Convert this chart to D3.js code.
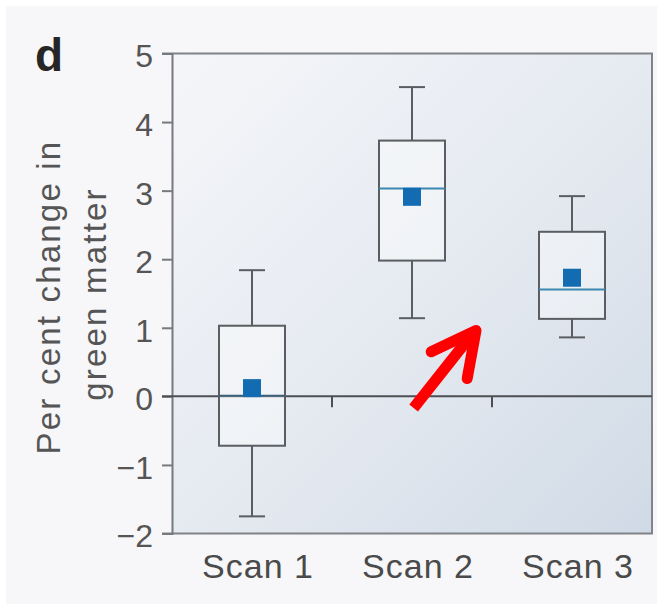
<html>
<script src="https://d3js.org/d3.v7.min.js"></script>
<style>
body { margin: 0; background: #ffffff; }
text { font-family: "Liberation Sans", Arial, sans-serif; }
</style>
<div id="chart"></div>
<script>

// values
var scans = ["Scan 1", "Scan 2", "Scan 3"];
var whiskerLow  = [-1.75, 1.14, 0.86];
var boxLow      = [-0.72, 1.98, 1.13];
var medians     = [0.01, 3.03, 1.56];
var boxHigh     = [1.03, 3.73, 2.40];
var whiskerHigh = [1.84, 4.51, 2.92];
var means       = [0.12, 2.91, 1.73];
var yTicks = [-2, -1, 0, 1, 2, 3, 4, 5];

// annotation arrow, in (band index, value) units
var arrowShaft = [[1.51, -0.17], [1.88, 0.92]];
var arrowHead  = [[1.62, 0.65], [1.90, 0.96], [1.845, 0.26]];

var W = 663, H = 610;
var pLeft = 172, pRight = 652, pTop = 53.5, pBottom = 533.5;

var svg = d3.select("#chart").append("svg")
    .attr("width", W)
    .attr("height", H);

var grad = svg.append("defs").append("linearGradient")
    .attr("id", "bg")
    .attr("x1", "0%").attr("y1", "0%")
    .attr("x2", "100%").attr("y2", "100%");
grad.append("stop").attr("offset", "0%").attr("stop-color", "#f5f6f9");
grad.append("stop").attr("offset", "55%").attr("stop-color", "#e4e9f0");
grad.append("stop").attr("offset", "100%").attr("stop-color", "#d0dae6");

svg.append("rect")
    .attr("x", 6).attr("y", 6)
    .attr("width", W - 12).attr("height", H - 12)
    .attr("fill", "#f7f7f9");

var x = d3.scaleBand()
    .domain(scans)
    .range([pLeft, pRight]);

var xl = d3.scaleLinear()
    .domain([0, 3])
    .range([pLeft, pRight]);

var y = d3.scaleLinear()
    .domain([-2, 5])
    .range([pBottom, pTop]);

svg.append("rect")
    .attr("x", pLeft)
    .attr("y", pTop)
    .attr("width", pRight - pLeft)
    .attr("height", pBottom - pTop)
    .attr("fill", "url(#bg)");

// frame: top, right, bottom
svg.append("path")
    .attr("d", "M" + (pLeft - 10) + "," + y(5) + "H" + pRight + "V" + y(-2) + "H" + (pLeft - 10))
    .attr("fill", "none")
    .attr("stroke", "#808388")
    .attr("stroke-width", 2);

// y axis
var yAxis = svg.append("g")
    .attr("transform", "translate(" + pLeft + ",0)")
    .call(d3.axisLeft(y).tickValues(yTicks).tickSize(10).tickPadding(9)
      .tickFormat(function(d) { return d < 0 ? "\u2212" + Math.abs(d) : d; }));
yAxis.select(".domain").attr("stroke", "#76797e").attr("stroke-width", 2);
yAxis.selectAll(".tick line").attr("stroke", "#76797e").attr("stroke-width", 2);
yAxis.selectAll(".tick text")
    .attr("fill", "#555")
    .attr("dy", "0.42em")
    .style("font-size", "32px");

// zero line + separators
svg.append("line")
    .attr("x1", pLeft - 10).attr("x2", pRight)
    .attr("y1", y(0)).attr("y2", y(0))
    .attr("stroke", "#4c4f53")
    .attr("stroke-width", 2);

svg.selectAll(".sep")
    .data(scans.slice(1))
    .enter()
    .append("line")
      .attr("x1", function(d) { return x(d); })
      .attr("x2", function(d) { return x(d); })
      .attr("y1", y(0))
      .attr("y2", y(0) + 11)
      .attr("stroke", "#4c4f53")
      .attr("stroke-width", 2);

// boxes
var boxW = 66, capW = 26;
var g = svg.selectAll(".scan")
    .data(scans)
    .enter()
    .append("g")
      .attr("transform", function(d) { return "translate(" + (x(d) + x.bandwidth() / 2) + ",0)"; });

// upper whisker
g.append("line")
    .attr("y1", function(d, i) { return y(boxHigh[i]); })
    .attr("y2", function(d, i) { return y(whiskerHigh[i]); })
    .attr("stroke", "#5a5d61")
    .attr("stroke-width", 2);

// lower whisker
g.append("line")
    .attr("y1", function(d, i) { return y(whiskerLow[i]); })
    .attr("y2", function(d, i) { return y(boxLow[i]); })
    .attr("stroke", "#5a5d61")
    .attr("stroke-width", 2);

g.append("line")
    .attr("x1", -capW / 2).attr("x2", capW / 2)
    .attr("y1", function(d, i) { return y(whiskerHigh[i]); })
    .attr("y2", function(d, i) { return y(whiskerHigh[i]); })
    .attr("stroke", "#5a5d61")
    .attr("stroke-width", 2);

g.append("line")
    .attr("x1", -capW / 2).attr("x2", capW / 2)
    .attr("y1", function(d, i) { return y(whiskerLow[i]); })
    .attr("y2", function(d, i) { return y(whiskerLow[i]); })
    .attr("stroke", "#5a5d61")
    .attr("stroke-width", 2);

g.append("rect")
    .attr("x", -boxW / 2)
    .attr("width", boxW)
    .attr("y", function(d, i) { return y(boxHigh[i]); })
    .attr("height", function(d, i) { return y(boxLow[i]) - y(boxHigh[i]); })
    .attr("fill", "#ffffff")
    .attr("fill-opacity", 0.4)
    .attr("stroke", "#5a5d61")
    .attr("stroke-width", 2);

g.append("line")
    .attr("x1", -boxW / 2).attr("x2", boxW / 2)
    .attr("y1", function(d, i) { return y(medians[i]); })
    .attr("y2", function(d, i) { return y(medians[i]); })
    .attr("stroke", function(d, i) { return i == 0 ? "#3b5f78" : "#3a88b0"; })
    .attr("stroke-width", 2);

g.append("rect")
    .attr("x", -9)
    .attr("y", function(d, i) { return y(means[i]) - 9; })
    .attr("width", 18)
    .attr("height", 18)
    .attr("fill", "#136bb2");

// category labels
var xAxis = svg.append("g")
    .attr("transform", "translate(6," + pBottom + ")")
    .call(d3.axisBottom(x).tickSize(0).tickPadding(20));
xAxis.select(".domain").remove();
xAxis.selectAll(".tick text")
    .attr("fill", "#4a4a4a")
    .style("font-size", "34px")
    .style("letter-spacing", "1px");

// y title
svg.append("text")
    .attr("transform", "translate(60,297) rotate(-90)")
    .attr("text-anchor", "middle")
    .attr("fill", "#555")
    .style("font-size", "33px")
    .style("letter-spacing", "2.2px")
    .text("Per cent change in");

svg.append("text")
    .attr("transform", "translate(106,294) rotate(-90)")
    .attr("text-anchor", "middle")
    .attr("fill", "#555")
    .style("font-size", "33px")
    .style("letter-spacing", "2.2px")
    .text("green matter");

// panel letter
svg.append("text")
    .attr("x", 35)
    .attr("y", 71)
    .attr("fill", "#262626")
    .style("font-size", "46px")
    .style("font-weight", "bold")
    .text("d");

// red arrow
var line = d3.line()
    .x(function(d) { return xl(d[0]); })
    .y(function(d) { return y(d[1]); });

svg.append("path")
    .attr("d", line(arrowShaft))
    .attr("fill", "none")
    .attr("stroke", "#ff0000")
    .attr("stroke-width", 11);

svg.append("path")
    .attr("d", line(arrowHead))
    .attr("fill", "none")
    .attr("stroke", "#ff0000")
    .attr("stroke-width", 11)
    .attr("stroke-linecap", "round")
    .attr("stroke-linejoin", "round");

</script>
</html>
